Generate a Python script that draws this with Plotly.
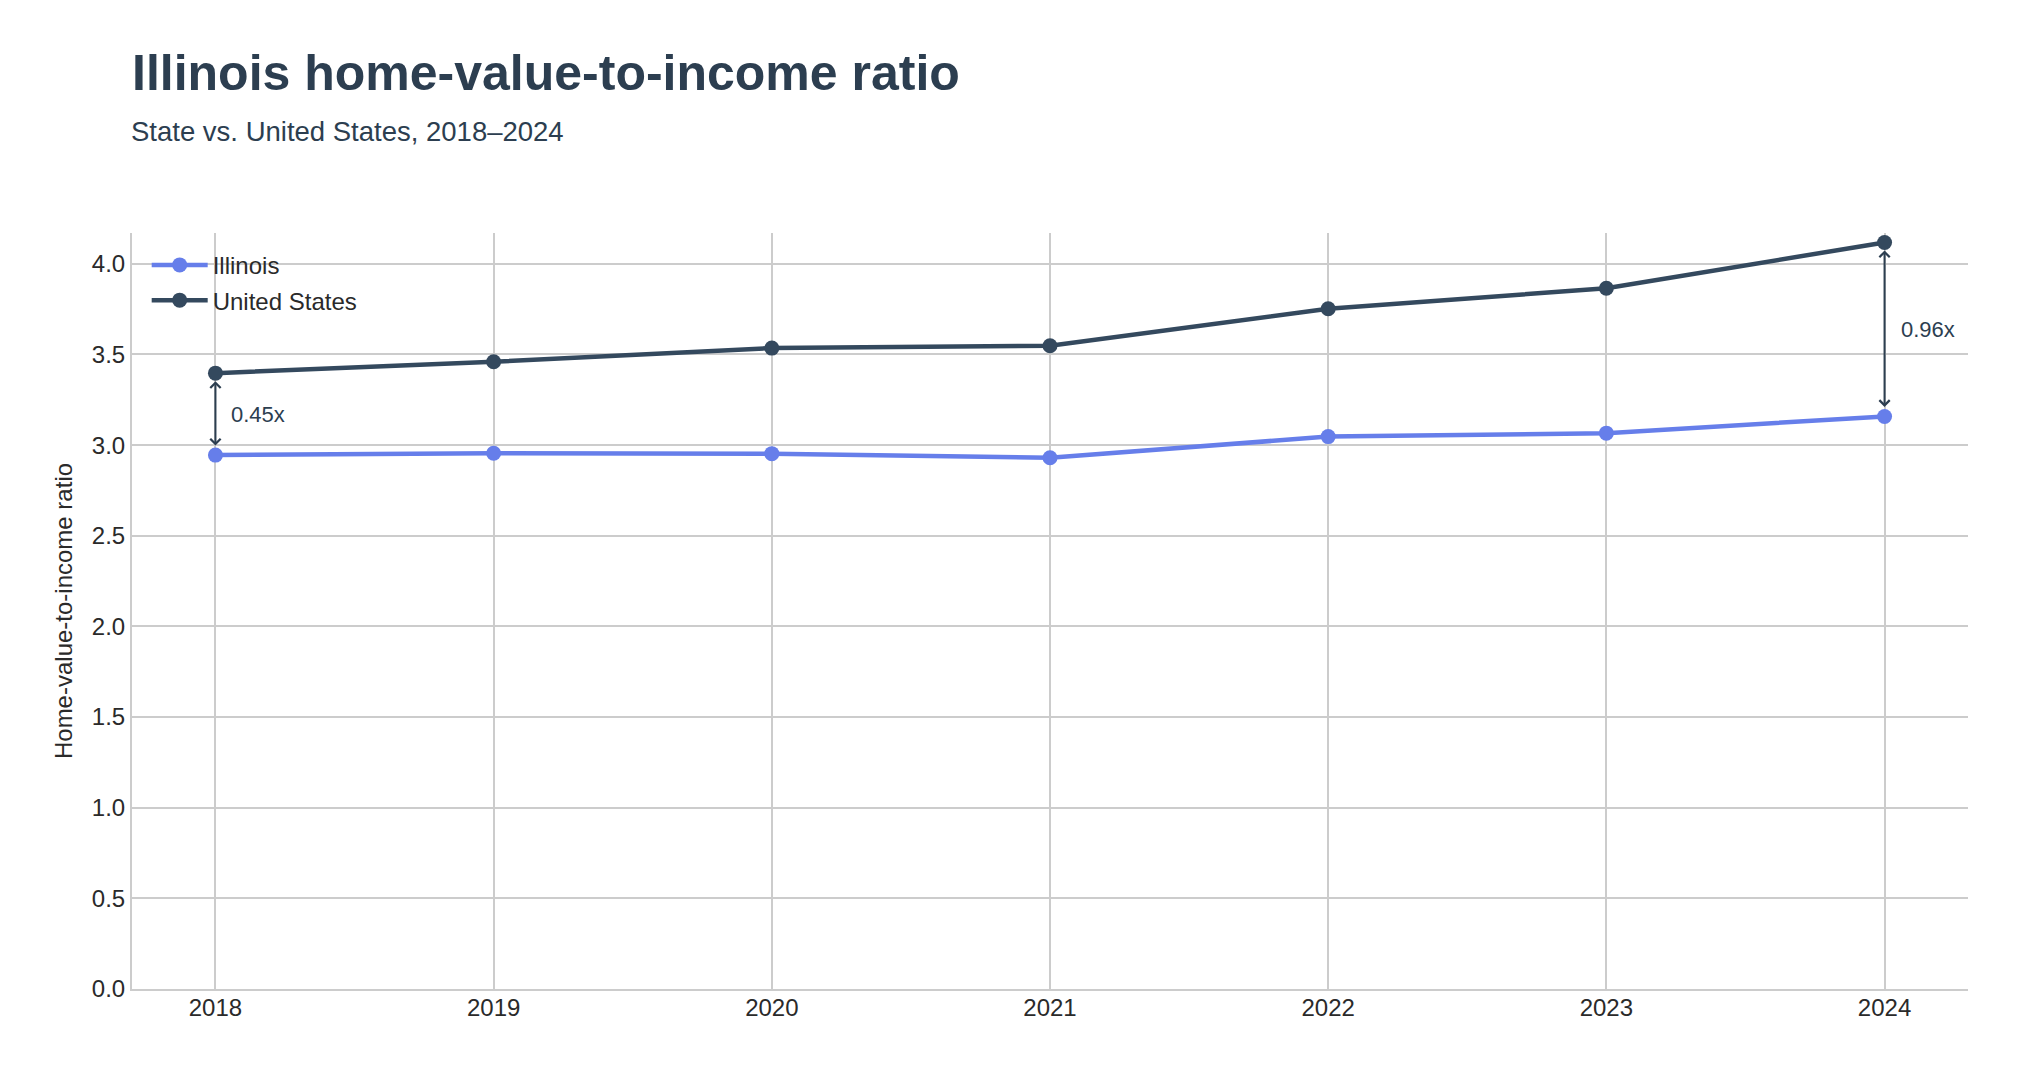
import plotly.graph_objects as go

years = [2018, 2019, 2020, 2021, 2022, 2023, 2024]
illinois = [2.945, 2.955, 2.953, 2.93, 3.047, 3.066, 3.158]
united_states = [3.397, 3.46, 3.535, 3.548, 3.752, 3.865, 4.118]
gap_labels = {2018: "0.45x", 2024: "0.96x"}

il_color = "#667eea"
us_color = "#34495e"
ink = "#2c3e50"
text_grey = "#2a2a2a"
font_family = "Arial, Liberation Sans, sans-serif"

W, H = 2004, 1059
m = dict(l=124, r=44, t=225, b=78)
plot_h = H - m["t"] - m["b"]

fig = go.Figure()
fig.add_trace(go.Scatter(x=years, y=illinois, name="Illinois", mode="lines+markers",
                         legendgroup="il",
                         line=dict(color=il_color, width=4.5), marker=dict(size=15, color=il_color)))
fig.add_trace(go.Scatter(x=years, y=united_states, name="United States", mode="lines+markers",
                         legendgroup="us",
                         line=dict(color=us_color, width=4.5), marker=dict(size=15, color=us_color)))

# double-headed gap arrows with ratio labels
for yr, label in gap_labels.items():
    i = years.index(yr)
    lo, hi = illinois[i], united_states[i]
    fig.add_annotation(x=yr, y=hi, ax=yr, ay=lo, xref="x", yref="y", axref="x", ayref="y",
                       text="", showarrow=True, arrowhead=4, startarrowhead=4,
                       arrowside="end+start", arrowwidth=2, arrowcolor=ink,
                       standoff=8, startstandoff=8, arrowsize=1)
    fig.add_annotation(x=yr, y=(lo + hi) / 2, xref="x", yref="y", text=label,
                       showarrow=False, xanchor="left", xshift=14,
                       font=dict(size=22, color=ink, family=font_family))

# subtitle
fig.add_annotation(text="State vs. United States, 2018–2024", xref="paper", yref="paper",
                   x=0, xshift=-3, y=1 + (m["t"] - 123) / plot_h, xanchor="left", yanchor="middle",
                   showarrow=False, font=dict(size=27.5, color=ink, family=font_family))

fig.update_layout(
    width=W, height=H,
    paper_bgcolor="white", plot_bgcolor="white",
    margin=m,
    font=dict(family=font_family, size=24, color=text_grey),
    title=dict(text="<b>Illinois home-value-to-income ratio</b>",
               font=dict(size=50, color=ink, family=font_family),
               x=0, xref="paper", xanchor="left",
               y=1 - 64 / H, yref="container", yanchor="middle"),
    legend=dict(x=0.008, y=0.987, xanchor="left", yanchor="top",
                bgcolor="rgba(0,0,0,0)", font=dict(size=24, color=text_grey),
                itemwidth=56, traceorder="grouped", tracegroupgap=1),
    showlegend=True,
)
fig.update_xaxes(range=[2017.7, 2024.3], tickmode="array", tickvals=years,
                 showgrid=True, gridcolor="#cccccc", gridwidth=1.5,
                 showline=True, linecolor="#cccccc", linewidth=2,
                 zeroline=False, ticks="", ticklabelstandoff=-4,
                 tickfont=dict(size=24, color=text_grey))
fig.update_yaxes(range=[0, 4.17], dtick=0.5, tickformat=".1f",
                 title=dict(text="Home-value-to-income ratio", standoff=12,
                            font=dict(size=24, color=text_grey)),
                 showgrid=True, gridcolor="#cccccc", gridwidth=1.5,
                 showline=True, linecolor="#cccccc", linewidth=2,
                 zeroline=False, ticks="", tickfont=dict(size=24, color=text_grey))

fig.write_html("out.html")
